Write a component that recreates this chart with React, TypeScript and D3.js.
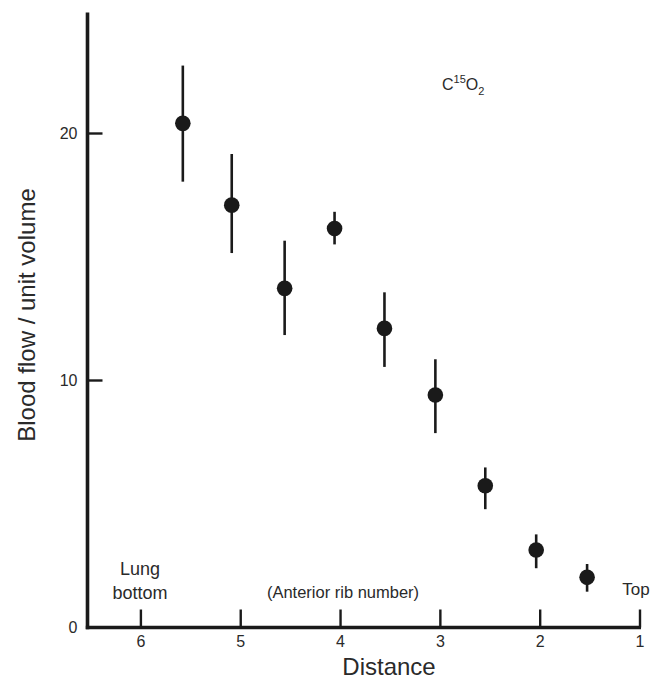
import React from "react";
import * as d3 from "d3";

const ribX = [5.58, 5.09, 4.56, 4.06, 3.56, 3.05, 2.55, 2.04, 1.53];
const flowMean = [20.41, 17.1, 13.73, 16.15, 12.11, 9.41, 5.74, 3.14, 2.03];
const flowHigh = [22.75, 19.17, 15.66, 16.83, 13.57, 10.86, 6.48, 3.77, 2.57];
const flowLow = [18.05, 15.16, 11.84, 15.51, 10.55, 7.87, 4.79, 2.4, 1.45];
const xTicks = [6, 5, 4, 3, 2, 1];
const yTicks = [0, 10, 20];

const W = 665;
const H = 679;
const font = "'Liberation Sans', Arial, Helvetica, sans-serif";

export default function App() {
  const x = d3.scaleLinear().domain([6.535, 1]).range([87.5, 640]);
  const y = d3.scaleLinear().domain([0, 25]).range([627.5, 10]);
  const ink = "#1a1a1a";
  const txt = "#2a2a2a";
  return (
    <svg
      width={W}
      height={H}
      style={{ position: "absolute", left: 0, top: 0, background: "#fff" }}
      fontFamily={font}
    >
      {/* axes */}
      <line x1={x(6.535)} x2={x(6.535)} y1={y(24.9)} y2={y(0) + 1.7} stroke={ink} strokeWidth={3.6} />
      <line x1={x(6.535) - 1.7} x2={x(1) + 1} y1={y(0)} y2={y(0)} stroke={ink} strokeWidth={3.6} />
      {yTicks.map((t) => (
        <g key={"y" + t}>
          {t > 0 && (
            <line x1={x(6.535)} x2={x(6.535) + 15} y1={y(t)} y2={y(t)} stroke={ink} strokeWidth={2.4} />
          )}
          <text x={x(6.535) - 10} y={y(t)} dy="0.35em" textAnchor="end" fontSize={16} fill={txt}>
            {t}
          </text>
        </g>
      ))}
      {xTicks.map((t) => (
        <g key={"x" + t}>
          <line x1={x(t)} x2={x(t)} y1={y(0)} y2={y(0) - 18} stroke={ink} strokeWidth={2.4} />
          <text x={x(t)} y={647} textAnchor="middle" fontSize={16} fill={txt}>
            {t}
          </text>
        </g>
      ))}
      {/* error bars and points */}
      {ribX.map((v, i) => (
        <g key={"p" + i}>
          <line x1={x(v)} x2={x(v)} y1={y(flowHigh[i])} y2={y(flowLow[i])} stroke={ink} strokeWidth={2.6} />
          <circle cx={x(v)} cy={y(flowMean[i])} r={7.8} fill={ink} />
        </g>
      ))}
      {/* annotations */}
      <text x={140} y={575} textAnchor="middle" fontSize={18} fill={txt}>Lung</text>
      <text x={140} y={599} textAnchor="middle" fontSize={18} fill={txt}>bottom</text>
      <text x={343} y={598} textAnchor="middle" fontSize={16.5} fill={txt}>(Anterior rib number)</text>
      <text x={636} y={595} textAnchor="middle" fontSize={17} fill={txt}>Top</text>
      <text x={442} y={90} fontSize={16} fill={txt}>
        C<tspan fontSize={11} dy={-7}>15</tspan>
        <tspan fontSize={16} dy={7}>O</tspan>
        <tspan fontSize={11} dy={5}>2</tspan>
      </text>
      {/* axis titles */}
      <text x={389} y={675} textAnchor="middle" fontSize={24} fill={txt}>Distance</text>
      <text
        transform={`translate(35, ${315}) rotate(-90)`}
        textAnchor="middle"
        fontSize={24}
        fill={txt}
      >
        Blood flow / unit volume
      </text>
    </svg>
  );
}
